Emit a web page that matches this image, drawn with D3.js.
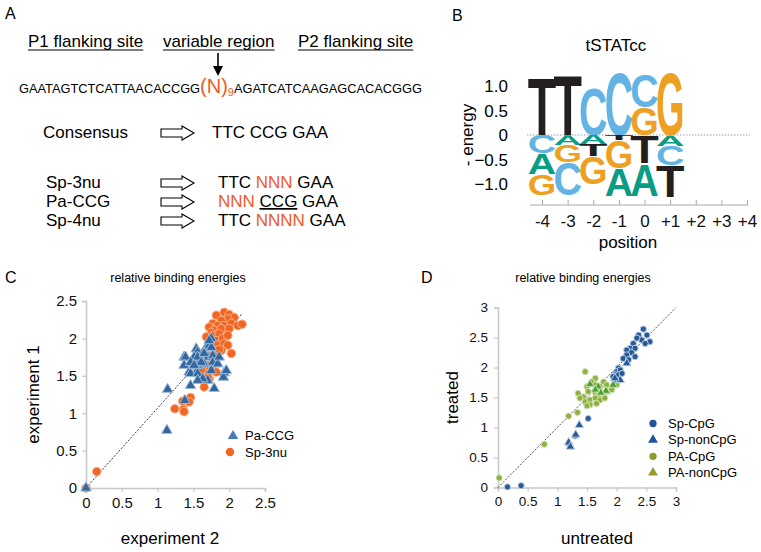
<!DOCTYPE html>
<html>
<head>
<meta charset="utf-8">
<script src="https://cdn.jsdelivr.net/npm/d3@7"></script>
<style>
  body { margin: 0; background: #fff; }
  text { font-family: "Liberation Sans", Arial, sans-serif; }
</style>
</head>
<body>
<script>
// ---- data ----
var orange = "#f05a28";

// panel A
var headers = ["P1 flanking site", "variable region", "P2 flanking site"];
var seqLeft = "GAATAGTCTCATTAACACCGG";
var seqRight = "AGATCATCAAGAGCACACGGG";
var libNames = ["Sp-3nu", "Pa-CCG", "Sp-4nu"];

// panel B (logo), heights in energy units, stacked from 0 outwards
var logoPositions = ["-4", "-3", "-2", "-1", "0", "+1", "+2", "+3", "+4"];
var logoUp = [
  [["T", 1.18]],
  [["T", 1.24]],
  [["C", 0.97]],
  [["C", 1.29]],
  [["G", 0.58], ["C", 0.68]],
  [["G", 1.29]],
  [], [], []
];
var logoDown = [
  [["C", 0.37], ["A", 0.42], ["G", 0.43]],
  [["A", 0.20], ["G", 0.35], ["C", 0.67]],
  [["A", 0.18], ["T", 0.24], ["G", 0.58]],
  [["T", 0.10], ["G", 0.58], ["A", 0.56]],
  [["T", 0.58], ["A", 0.66]],
  [["A", 0.22], ["C", 0.40], ["T", 0.64]],
  [], [], []
];
var logoTicks = [-1, -0.5, 0, 0.5, 1];
var baseColor = { T: "#231f20", C: "#63b4e4", G: "#eea022", A: "#0a9c84" };

// panel C
var ticksC = [0, 0.5, 1, 1.5, 2, 2.5];
var pacgC = [[0,0],[1.13,0.77],[1.14,1.32],[1.46,1.37],[1.79,1.33],[1.93,1.54],[1.92,1.48],[1.38,1.17],
  [1.37,1.75],[1.39,1.75],[1.37,1.64],[1.54,1.86],[1.56,1.82],[1.68,1.88],[1.75,2.00],[1.72,1.91],
  [1.63,1.80],[1.51,1.75],[1.61,1.71],[1.70,1.75],[1.77,1.77],[1.82,1.66],[1.46,1.68],[1.56,1.64],
  [1.65,1.66],[1.44,1.55],[1.54,1.55],[1.61,1.46],[1.58,1.44],[1.70,1.44],[1.46,1.53],[1.56,1.75],
  [1.61,1.68],[1.65,1.80],[1.75,1.88],[1.77,1.68],[1.56,1.53],[1.63,1.46],[1.75,1.57],[1.84,1.66],
  [1.86,1.75],[1.96,1.57],[1.72,1.97],[1.51,1.64],[1.56,1.44]];
var sp3nuC = [[0,0],[0.15,0.22],[1.82,2.31],[1.93,2.35],[2.00,2.32],[2.07,2.28],[1.98,2.26],[1.89,2.24],
  [1.77,2.20],[1.72,2.15],[1.84,2.17],[1.93,2.17],[2.03,2.20],[2.12,2.17],[2.18,2.19],[1.79,2.11],
  [1.89,2.13],[2.00,2.13],[1.75,2.08],[1.68,2.02],[1.77,2.04],[1.86,2.06],[1.82,1.97],[1.91,2.00],
  [1.98,2.04],[1.75,1.93],[1.84,1.91],[1.93,1.93],[1.98,1.91],[1.79,1.84],[1.89,1.84],[2.03,1.80],
  [1.72,1.77],[1.82,1.77],[1.86,1.85],[1.70,1.64],[1.63,1.64],[1.77,1.64],[1.61,1.57],[1.71,1.53],
  [1.82,1.55],[1.72,1.46],[1.65,1.35],[1.46,1.21],[1.44,1.15],[1.35,1.16],[1.24,1.06],[1.36,1.05],
  [1.37,1.02],[1.70,1.48]];
var diagC = [[0, 0], [2.18, 2.33]];

// panel D
var ticksD = [0, 0.5, 1, 1.5, 2, 2.5, 3];
var spCpG = [[0.16,0.01],[0.39,0.03],[1.21,0.71],[1.30,0.86],[1.52,1.15],
  [2.45,2.64],[2.37,2.54],[2.51,2.54],[2.56,2.43],[2.42,2.46],[2.34,2.49],[2.48,2.40],[2.28,2.40],
  [2.23,2.32],[2.17,2.29],[2.31,2.32],[2.25,2.25],[2.17,2.21],[2.31,2.18],[2.11,2.15],[2.20,2.13],
  [2.03,1.99],[2.00,1.93],[2.06,1.96],[1.97,1.88],[1.94,1.85],[2.03,1.88],[2.09,1.90],[2.00,1.79]];
var spNonCpG = [[1.19,0.75],[1.22,0.68],[1.31,0.88],[1.37,1.04],[2.17,2.07],[2.06,1.79],[1.97,1.82]];
var paCpG = [[0.02,0.16],[0.78,0.72],[1.19,1.19],[1.34,1.25],
  [1.47,1.93],[1.64,1.82],[1.78,1.76],[1.58,1.76],[1.50,1.68],[1.64,1.71],[1.72,1.68],[1.83,1.71],
  [1.35,1.57],[1.44,1.51],[1.52,1.60],[1.64,1.58],[1.69,1.53],[1.78,1.57],[1.86,1.60],[1.92,1.63],
  [2.00,1.71],[1.38,1.49],[1.47,1.43],[1.55,1.46],[1.64,1.49],[1.72,1.46],[1.80,1.49],[1.55,1.38],
  [1.66,1.40],[1.50,1.36]];
var paNonCpG = [[1.55,1.72],[1.69,1.68],[1.82,1.61],[1.94,1.71],[1.73,1.58],[1.64,1.63]];
var diagD = [[0, 0], [3, 3]];

var svg = d3.select("body").append("svg")
  .attr("width", 761).attr("height", 552)
  .style("background", "#fff");

// ================= panel A =================
var A = svg.append("g");
A.append("text").attr("x", 5).attr("y", 19).attr("font-size", 16).text("A");

var headerX = [28, 163, 298];
headers.forEach(function(h, i) {
  var t = A.append("text").attr("x", headerX[i]).attr("y", 47).attr("font-size", 17).text(h);
  var len = t.node().getComputedTextLength();
  A.append("line").attr("x1", headerX[i]).attr("x2", headerX[i] + len)
    .attr("y1", 50).attr("y2", 50).attr("stroke", "#000").attr("stroke-width", 1.1);
});

// arrow down to the variable region
A.append("line").attr("x1", 218).attr("x2", 218).attr("y1", 53).attr("y2", 68)
  .attr("stroke", "#000").attr("stroke-width", 1.6);
A.append("path").attr("d", "M213,66 L223,66 L218,76 Z").attr("fill", "#000");

var seq = A.append("text").attr("x", 19).attr("y", 93).attr("font-size", 12.8);
seq.append("tspan").text(seqLeft);
seq.append("tspan").attr("fill", orange).attr("font-size", 20).text("(N)");
seq.append("tspan").attr("fill", orange).attr("font-size", 11).attr("dy", 3).text("9");
seq.append("tspan").attr("dy", -3).text(seqRight);

function blockArrow(y) {
  A.append("path")
    .attr("d", "M161," + (y - 4) + " L182," + (y - 4) + " L182," + (y - 7) + " L194," + y +
      " L182," + (y + 7) + " L182," + (y + 4) + " L161," + (y + 4) + " Z")
    .attr("fill", "#fff").attr("stroke", "#000").attr("stroke-width", 1.1);
}

A.append("text").attr("x", 43).attr("y", 138).attr("font-size", 17).text("Consensus");
blockArrow(133);
A.append("text").attr("x", 212).attr("y", 138).attr("font-size", 17).text("TTC CCG GAA");

var rowY = [188, 207, 226];
libNames.forEach(function(n, i) {
  A.append("text").attr("x", 46).attr("y", rowY[i]).attr("font-size", 17).text(n);
  blockArrow(rowY[i] - 5);
});
var r1 = A.append("text").attr("x", 218).attr("y", rowY[0]).attr("font-size", 17);
r1.append("tspan").text("TTC ");
r1.append("tspan").attr("fill", orange).text("NNN");
r1.append("tspan").text(" GAA");
var r2 = A.append("text").attr("x", 218).attr("y", rowY[1]).attr("font-size", 17);
r2.append("tspan").attr("fill", orange).text("NNN");
r2.append("tspan").text(" ");
r2.append("tspan").style("text-decoration", "underline").text("CCG");
r2.append("tspan").text(" GAA");
var r3 = A.append("text").attr("x", 218).attr("y", rowY[2]).attr("font-size", 17);
r3.append("tspan").text("TTC ");
r3.append("tspan").attr("fill", orange).text("NNNN");
r3.append("tspan").text(" GAA");

// ================= panel B =================
var B = svg.append("g");
B.append("text").attr("x", 452).attr("y", 21).attr("font-size", 16).text("B");
B.append("text").attr("x", 616).attr("y", 51).attr("font-size", 17)
  .attr("text-anchor", "middle").text("tSTATcc");

var xL = d3.scalePoint().domain(logoPositions).range([542, 747]);
var yL = d3.scaleLinear().domain([-1, 1]).range([184, 86]);
var colW = xL.step() * 1.0;

B.append("line").attr("x1", 527).attr("x2", 750).attr("y1", yL(0)).attr("y2", yL(0))
  .attr("stroke", "#888").attr("stroke-width", 0.8).attr("stroke-dasharray", "1.5,1.5");

B.selectAll(".ytick").data(logoTicks).enter().append("text")
  .attr("x", 508).attr("y", function(d) { return yL(d) + 6; })
  .attr("font-size", 17).attr("text-anchor", "end")
  .text(function(d) { return d === 0 ? "0" : d3.format(".1f")(d).replace("-", "-"); });

B.append("text").attr("transform", "translate(473," + yL(0) + ") rotate(-90)")
  .attr("font-size", 17).attr("text-anchor", "middle").text("- energy");

var xAxisB = B.append("g").attr("transform", "translate(0,205)")
  .call(d3.axisBottom(xL).tickSizeInner(-5).tickSizeOuter(0).tickPadding(10));
xAxisB.select(".domain").attr("stroke", "#aaa").attr("d", "M530,0H748");
xAxisB.selectAll(".tick line").attr("stroke", "#aaa");
xAxisB.selectAll(".tick text").attr("font-size", 17).attr("fill", "#111")
  .attr("font-family", "Liberation Sans, Arial, sans-serif");
B.append("text").attr("x", 628).attr("y", 248).attr("font-size", 17)
  .attr("text-anchor", "middle").text("position");

function drawLetter(ch, xc, yTop, yBot) {
  var t = B.append("text").text(ch)
    .attr("font-size", 100).attr("font-weight", "bold")
    .attr("text-anchor", "middle").attr("fill", baseColor[ch]);
  var adv = t.node().getComputedTextLength();
  var sx = colW / (adv * 0.9), sy = (yBot - yTop) / 71.6;
  t.attr("transform", "translate(" + xc + "," + yBot + ") scale(" + sx + "," + sy + ")");
}
logoPositions.forEach(function(p, i) {
  var acc = 0;
  logoUp[i].forEach(function(l) {
    drawLetter(l[0], xL(p), yL(acc + l[1]), yL(acc));
    acc += l[1];
  });
  acc = 0;
  logoDown[i].forEach(function(l) {
    drawLetter(l[0], xL(p), yL(-acc), yL(-acc - l[1]));
    acc += l[1];
  });
});

// ================= scatter helpers =================
function styleAxis(g, fs) {
  g.select(".domain").attr("stroke", "#c8c8c8").attr("stroke-width", 1.6);
  g.selectAll(".tick line").attr("stroke", "#c8c8c8").attr("stroke-width", 1.2);
  g.selectAll(".tick text").attr("font-size", fs).attr("fill", "#111")
    .attr("font-family", "Liberation Sans, Arial, sans-serif");
}
function fmt(d) { return d3.format("")(d); }

function scatter(g, data, x, y, type, size, fill, halo) {
  g.selectAll(null).data(data).enter().append("path")
    .attr("d", d3.symbol().type(type).size(size))
    .attr("transform", function(d) { return "translate(" + x(d[0]) + "," + y(d[1]) + ")"; })
    .attr("fill", fill).attr("stroke", halo).attr("stroke-width", 1);
}

// ================= panel C =================
var C = svg.append("g");
C.append("text").attr("x", 5).attr("y", 283).attr("font-size", 16).text("C");
C.append("text").attr("x", 178).attr("y", 282).attr("font-size", 12.5)
  .attr("text-anchor", "middle").text("relative binding energies");

var xC = d3.scaleLinear().domain([0, 2.5]).range([86, 265]);
var yC = d3.scaleLinear().domain([0, 2.5]).range([488, 301]);

var axCx = C.append("g").attr("transform", "translate(0," + yC(0) + ")")
  .call(d3.axisBottom(xC).tickValues(ticksC).tickFormat(fmt).tickSizeOuter(0).tickSize(4).tickPadding(5));
styleAxis(axCx, 15);
var axCy = C.append("g").attr("transform", "translate(" + xC(0) + ",0)")
  .call(d3.axisLeft(yC).tickValues(ticksC).tickFormat(fmt).tickSizeOuter(0).tickSize(4).tickPadding(5));
styleAxis(axCy, 15);

C.append("text").attr("x", 170).attr("y", 544).attr("font-size", 17)
  .attr("text-anchor", "middle").text("experiment 2");
C.append("text").attr("transform", "translate(39," + yC(1.25) + ") rotate(-90)")
  .attr("font-size", 17).attr("text-anchor", "middle").text("experiment 1");

C.append("line").attr("x1", xC(diagC[0][0])).attr("y1", yC(diagC[0][1]))
  .attr("x2", xC(diagC[1][0])).attr("y2", yC(diagC[1][1]))
  .attr("stroke", "#222").attr("stroke-width", 0.9).attr("stroke-dasharray", "2,1.5");

scatter(C, sp3nuC, xC, yC, d3.symbolCircle, 58, "#f26522", "#f9b48f");
scatter(C, pacgC, xC, yC, d3.symbolTriangle, 48, "#33679f", "#9bb8d8");

// legend C
C.append("path").attr("d", d3.symbol().type(d3.symbolTriangle).size(48))
  .attr("transform", "translate(233,436)").attr("fill", "#4a7ab8");
C.append("text").attr("x", 245).attr("y", 440).attr("font-size", 13).text("Pa-CCG");
C.append("path").attr("d", d3.symbol().type(d3.symbolCircle).size(55))
  .attr("transform", "translate(230,452)").attr("fill", "#f26522");
C.append("text").attr("x", 245).attr("y", 457).attr("font-size", 13).text("Sp-3nu");

// ================= panel D =================
var D = svg.append("g");
D.append("text").attr("x", 421).attr("y", 283).attr("font-size", 16).text("D");
D.append("text").attr("x", 583).attr("y", 282).attr("font-size", 12.5)
  .attr("text-anchor", "middle").text("relative binding energies");

var xD = d3.scaleLinear().domain([0, 3]).range([498, 676]);
var yD = d3.scaleLinear().domain([0, 3]).range([487.5, 307.5]);

var axDx = D.append("g").attr("transform", "translate(0," + yD(0) + ")")
  .call(d3.axisBottom(xD).tickValues(ticksD).tickFormat(fmt).tickSizeOuter(0).tickSize(4).tickPadding(5));
styleAxis(axDx, 13.5);
var axDy = D.append("g").attr("transform", "translate(" + xD(0) + ",0)")
  .call(d3.axisLeft(yD).tickValues(ticksD).tickFormat(fmt).tickSizeOuter(0).tickSize(4).tickPadding(6));
styleAxis(axDy, 13.5);

D.append("text").attr("x", 597).attr("y", 544).attr("font-size", 17)
  .attr("text-anchor", "middle").text("untreated");
D.append("text").attr("transform", "translate(458," + yD(1.5) + ") rotate(-90)")
  .attr("font-size", 17).attr("text-anchor", "middle").text("treated");

D.append("line").attr("x1", xD(diagD[0][0])).attr("y1", yD(diagD[0][1]))
  .attr("x2", xD(diagD[1][0])).attr("y2", yD(diagD[1][1]))
  .attr("stroke", "#222").attr("stroke-width", 0.8).attr("stroke-dasharray", "2,1.5");

scatter(D, paCpG, xD, yD, d3.symbolCircle, 30, "#8fb043", "#d6e4b8");
scatter(D, paNonCpG, xD, yD, d3.symbolTriangle, 30, "#4e9e2e", "#c8e0b8");
scatter(D, spCpG, xD, yD, d3.symbolCircle, 30, "#2a5a94", "#b8cde6");
scatter(D, spNonCpG, xD, yD, d3.symbolTriangle, 32, "#2a5a94", "#b8cde6");

// legend D
var legD = [
  ["Sp-CpG", d3.symbolCircle, "#1f5496"],
  ["Sp-nonCpG", d3.symbolTriangle, "#1f5496"],
  ["PA-CpG", d3.symbolCircle, "#8c9a2c"],
  ["PA-nonCpG", d3.symbolTriangle, "#9a9a2c"]
];
legD.forEach(function(l, i) {
  var yy = 423.5 + i * 16.4;
  D.append("path").attr("d", d3.symbol().type(l[1]).size(42))
    .attr("transform", "translate(653," + yy + ")").attr("fill", l[2]);
  D.append("text").attr("x", 668).attr("y", yy + 4.5).attr("font-size", 13).text(l[0]);
});
</script>
</body>
</html>
